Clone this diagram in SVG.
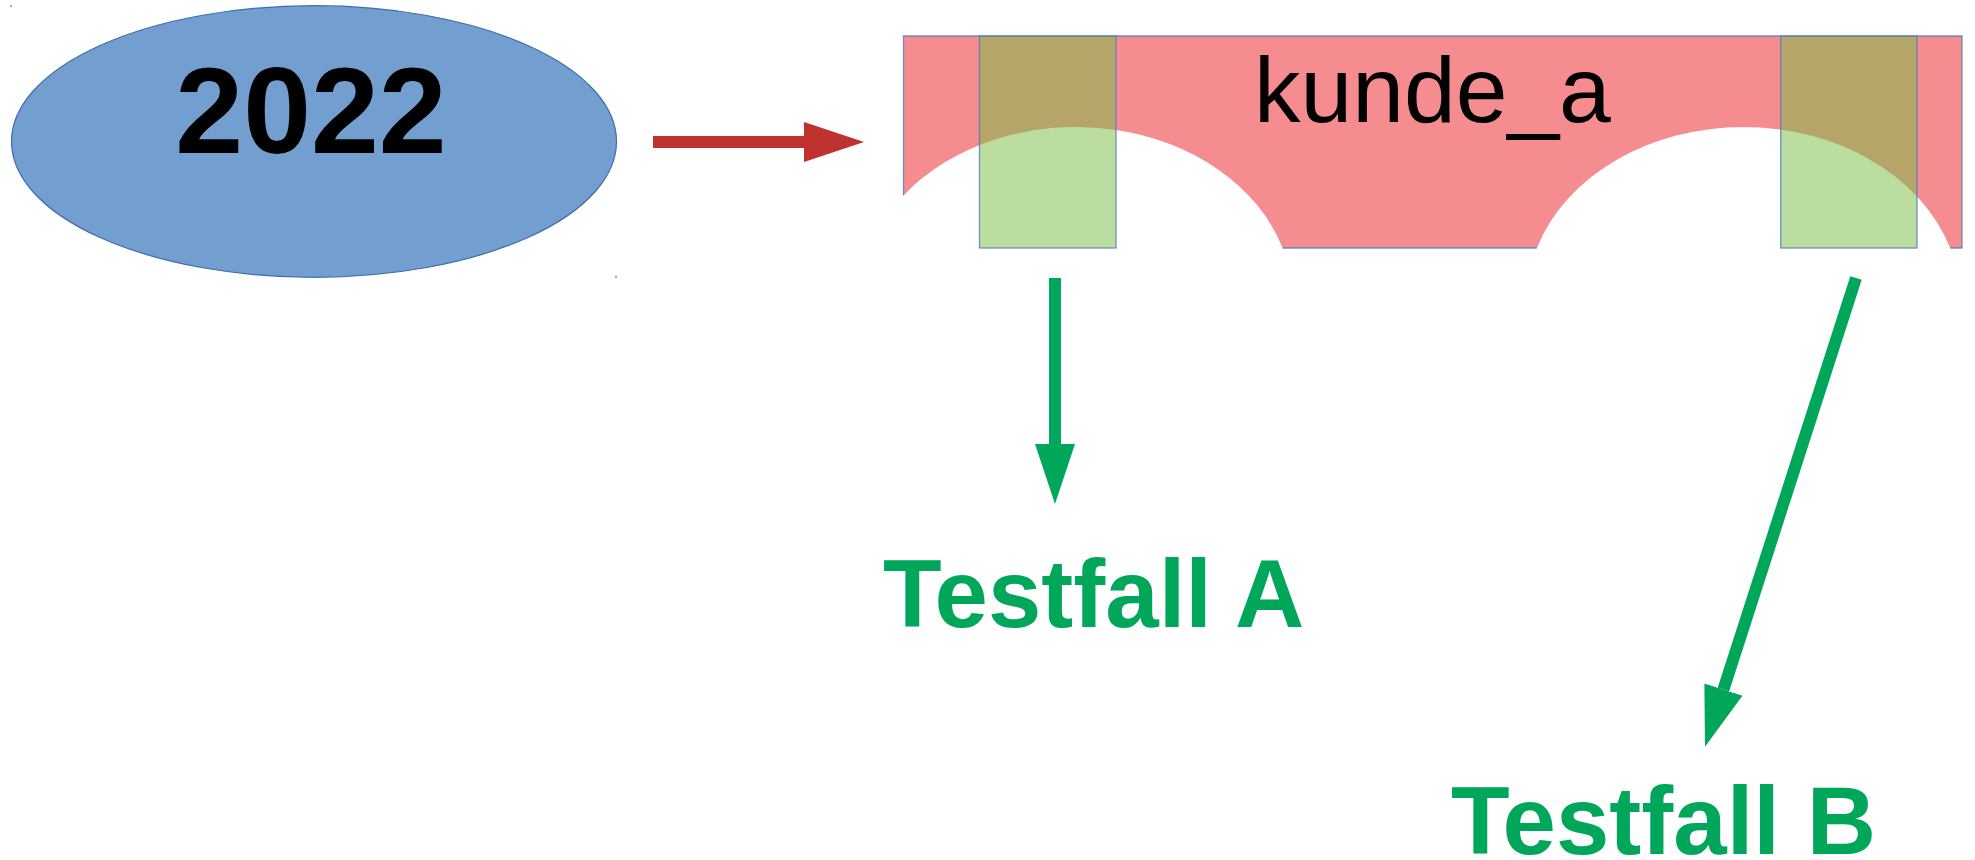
<svg xmlns="http://www.w3.org/2000/svg" width="1975" height="860" viewBox="0 0 1975 860">
<style>
.lbl{font-family:"Liberation Sans",Arial,sans-serif}
.big{font-weight:bold;font-size:122px;fill:#000}
.kd{font-size:93px;fill:#000}
.tf{font-weight:bold;font-size:96px;fill:#00a65a}
.hl{fill:#77bd41;fill-opacity:0.5;stroke:#4f7ac0;stroke-opacity:0.8;stroke-width:1.3}
.edge{fill:none;stroke:#4f7ac0;stroke-opacity:0.8;stroke-width:1.3}
.red{stroke:#bf322e;stroke-width:12;fill:none}
.grn{stroke:#00a65a;stroke-width:12;fill:none}
.dot{fill:#9aa8c0}
</style>
<defs>
<marker id="headRed" markerUnits="userSpaceOnUse" viewBox="0 0 60 40" markerWidth="60" markerHeight="40" refX="0" refY="20" orient="auto"><path d="M0,0 L60,20 L0,40 Z" fill="#bf322e"/></marker>
<marker id="headGrn" markerUnits="userSpaceOnUse" viewBox="0 0 60 40" markerWidth="60" markerHeight="40" refX="0" refY="20" orient="auto"><path d="M0,0 L60,20 L0,40 Z" fill="#00a65a"/></marker>
</defs>
<rect width="1975" height="860" fill="#fff"/>
<rect class="dot" x="10" y="5" width="2" height="2"/>
<rect class="dot" x="615" y="276" width="2" height="2"/>
<g id="node-2022">
<ellipse cx="314" cy="141.5" rx="302.5" ry="135.8" fill="#729fcf" stroke="#3f6cb0" stroke-width="1.2"/>
<text class="lbl big" x="311" y="153" text-anchor="middle">2022</text>
</g>
<g id="node-kunde_a">
<path d="M903.5,195.4 V36 H1962 V248 H1950.2 A217,174 0 0 0 1536.8,248 H1282.7 A217,174 0 0 0 903.5,195.4 Z" fill="#f58c8f"/>
<path class="edge" d="M903.5,195.4 V36 H1962 V248 H1950.2 M1536.8,248 H1282.7"/>
<text class="lbl kd" x="1254" y="122">kunde_a</text>
</g>
<g id="highlight-left">
<rect class="hl" x="979.5" y="36" width="136.5" height="212"/>
</g>
<g id="highlight-right">
<rect class="hl" x="1780.7" y="36" width="136.3" height="212"/>
</g>
<g id="connectors">
<line class="red" x1="653" y1="142" x2="804" y2="142" marker-end="url(#headRed)"/>
<line class="grn" x1="1055" y1="278" x2="1055" y2="444" marker-end="url(#headGrn)"/>
<line class="grn" x1="1856" y1="278" x2="1723.4" y2="689.6" marker-end="url(#headGrn)"/>
</g>
<g id="node-testfall-a">
<text class="lbl tf" x="883" y="627">Testfall A</text>
</g>
<g id="node-testfall-b">
<text class="lbl tf" x="1451" y="854">Testfall B</text>
</g>
</svg>
